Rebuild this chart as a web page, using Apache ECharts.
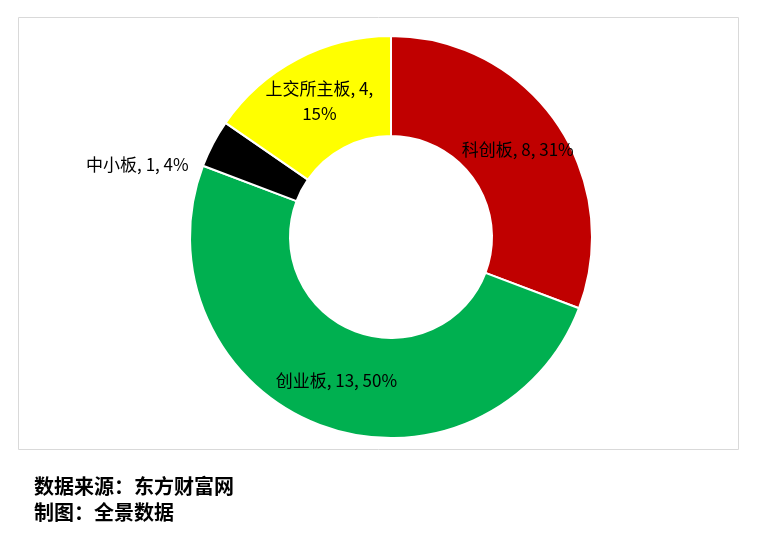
<!DOCTYPE html>
<html><head><meta charset="utf-8">
<script src="https://cdn.jsdelivr.net/npm/echarts@6/dist/echarts.min.js"></script>
<style>html,body{margin:0;padding:0;background:#fff;}#c{width:782px;height:537px;}</style>
</head><body><div id="c"></div>
<script>
const categories = ['科创板', '创业板', '中小板', '上交所主板'];
const values = [8, 13, 1, 4];
const colors = ['#C00000', '#00B050', '#000000', '#FFFF00'];
const sourceLines = ['数据来源：东方财富网', '制图：全景数据'];

const outsideLabels = { '中小板': { offset: [-14, 24] } };
const wrapLabels = { '上交所主板': true };

const chart = echarts.init(document.getElementById('c'));
const font = '"Noto Sans CJK SC", "Noto Sans", sans-serif';
const data = categories.map((name, i) => {
  const item = { name, value: values[i], itemStyle: { color: colors[i] } };
  if (outsideLabels[name]) {
    item.label = { position: 'outside', offset: outsideLabels[name].offset };
    item.labelLine = { show: false, length: 6, length2: 0 };
  }
  return item;
});
chart.setOption({
  animation: false,
  graphic: [
    { type: 'rect', shape: { x: 18.5, y: 17.5, width: 720, height: 432 }, style: { fill: 'none', stroke: '#D9D9D9', lineWidth: 1 }, z: -1 },
    { type: 'text', left: 34, top: 476, style: { text: sourceLines[0], font: 'bold 20px ' + font, fill: '#000' } },
    { type: 'text', left: 34, top: 502, style: { text: sourceLines[1], font: 'bold 20px ' + font, fill: '#000' } }
  ],
  series: [{
    type: 'pie',
    center: [391, 237],
    radius: [101, 201],
    startAngle: 90,
    clockwise: true,
    percentPrecision: 0,
    avoidLabelOverlap: false,
    itemStyle: { borderColor: '#fff', borderWidth: 2 },
    label: {
      show: true,
      position: 'inside',
      color: '#000',
      fontSize: 17,
      fontFamily: font,
      lineHeight: 25,
      formatter: p => wrapLabels[p.name]
        ? `${p.name}, ${p.value},\n${p.percent}%`
        : `${p.name}, ${p.value}, ${p.percent}%`
    },
    labelLine: { show: false },
    data
  }]
});
</script></body></html>
